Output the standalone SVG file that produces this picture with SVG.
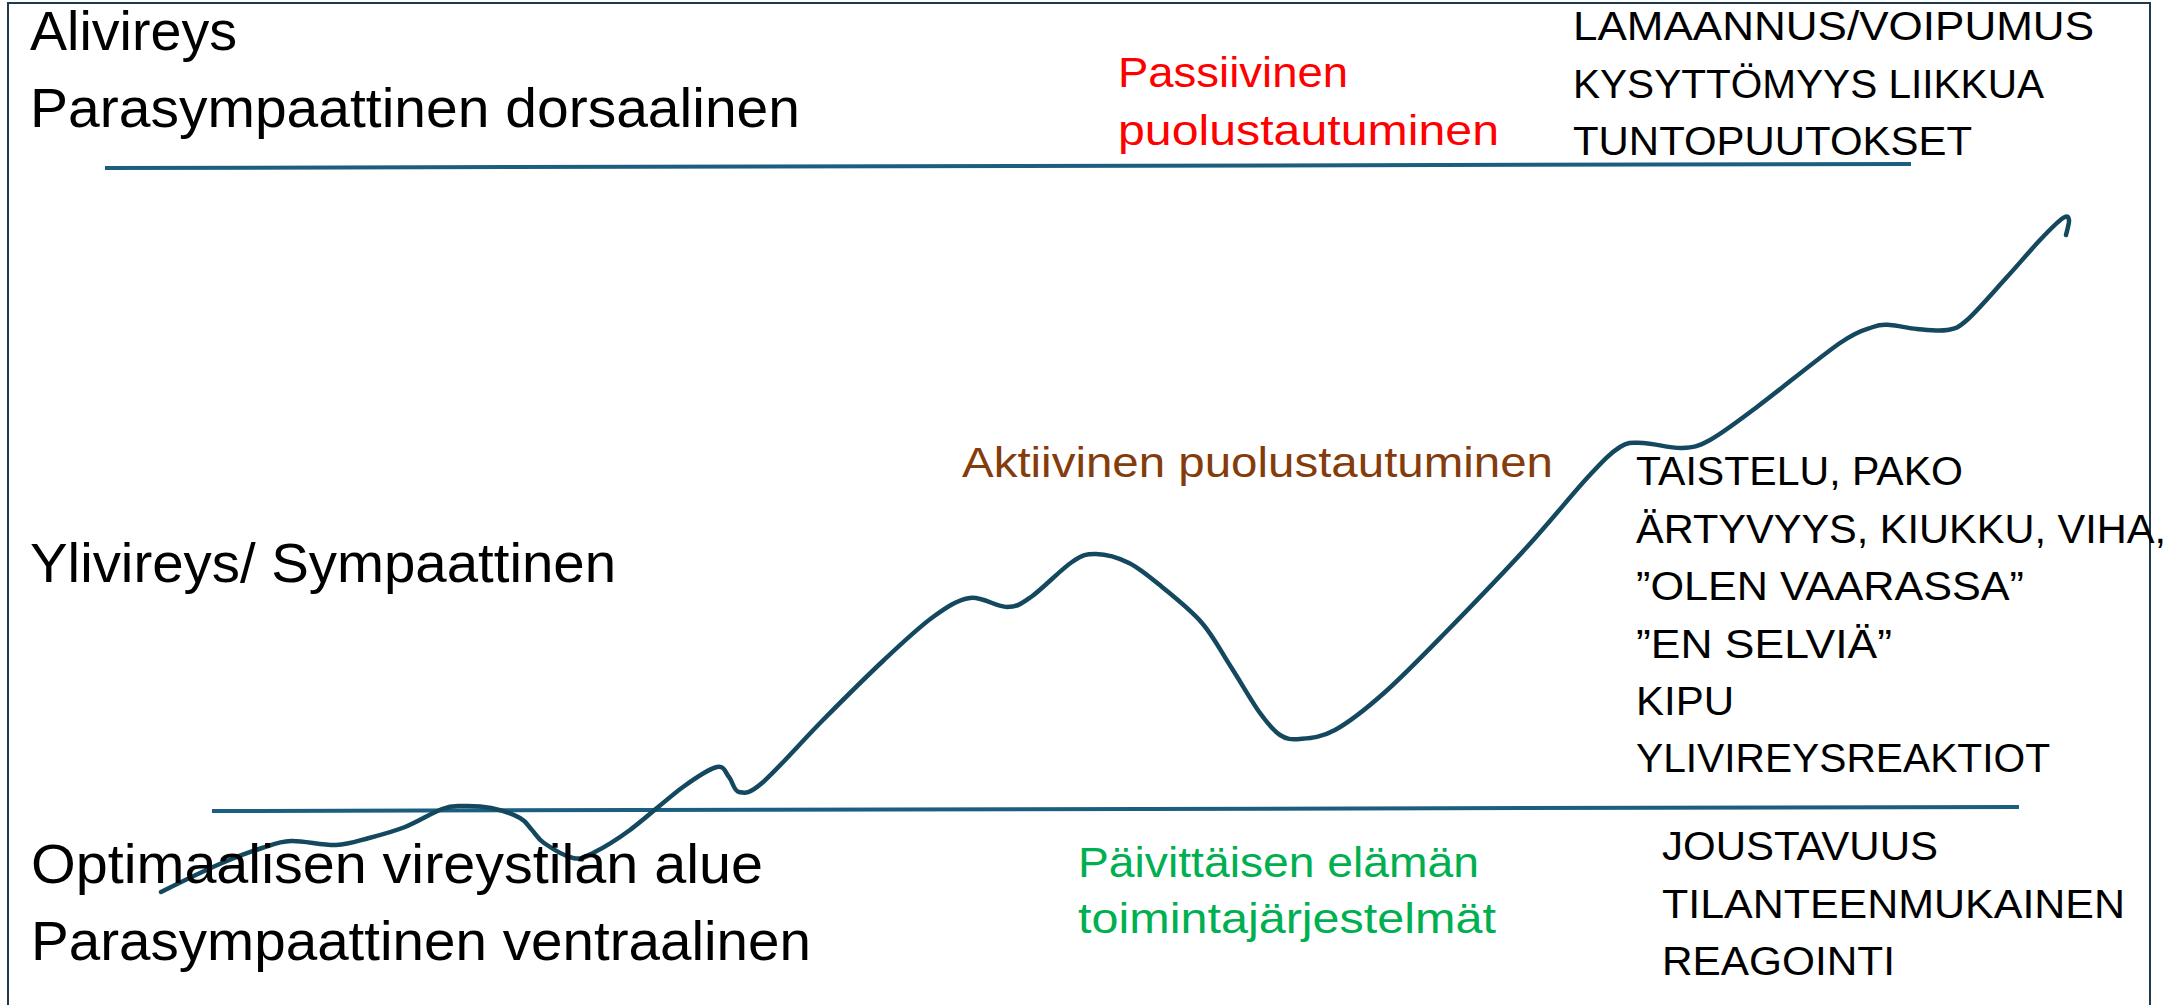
<svg xmlns="http://www.w3.org/2000/svg" width="2174" height="1005" viewBox="0 0 2174 1005">
<style>
text{font-family:"Liberation Sans",Arial,sans-serif;}
.lbl{font-size:55px;fill:#000;}
.cap{font-size:41px;fill:#000;}
.red{font-size:43px;fill:#ff0000;}
.brn{font-size:43px;fill:#843c0c;}
.grn{font-size:42px;fill:#00b050;}
.hline{stroke:#1b5e80;stroke-width:4;fill:none;}
.curve{stroke:#13485f;stroke-width:4.5;fill:none;stroke-linecap:round;stroke-linejoin:round;}
</style>
<rect width="2174" height="1005" fill="#fff"/>
<rect x="8" y="3" width="2142" height="1010" fill="none" stroke="#1f3a4d" stroke-width="2"/>
<g id="connectors">
<line class="hline" x1="105" y1="168" x2="1911" y2="164"/>
<line class="hline" x1="212" y1="811" x2="2019" y2="807"/>
<path class="curve" d="M161 892 C171 887 205.2 870.3 222 863 S250.5 851.7 262 848 S278.7 841.5 291 841 S323 845.5 336 845 S357.5 841 369 838 S392.8 831.8 405 827 S432.5 812.5 442 809 S453.8 806.2 462 806 S481.3 806 491 808 S513.2 814.3 520 818 S528 825.8 532 830 S537.2 838.3 544 843 S564.8 856.3 573 858 S583.5 857.7 593 853 S615 841 630 830 S668.5 797.5 683 787 S709.3 768.7 717 767 S725.3 772.8 729 777 S733.5 791 739 792 S748 795 762 783 S802.7 740.5 823 720 S865.7 677.2 884 660 S918.7 627.3 933 617 S957.7 599.7 970 598 S996.8 607.2 1007 607 S1020.2 604.5 1031 597 S1061.2 569.2 1072 562 S1086.5 553.8 1096 554 S1118 557.5 1129 563 S1149.8 577 1162 587 S1190.5 609.7 1202 623 S1221.3 652 1231 667 S1251.8 701.7 1260 713 S1273.3 730.7 1280 735 S1290.8 739.8 1300 739 S1321 737.7 1335 730 S1365.7 709.2 1384 693 S1421.2 657.3 1445 633 S1503.2 573 1527 547 S1572.5 493.7 1588 477 S1610.8 452.7 1620 447 S1632.7 442.8 1643 443 S1670.8 448.5 1682 448 S1697.5 446.8 1710 440 S1735.3 423.2 1757 407 S1820.7 356.3 1840 343 S1864.7 330 1873 327 S1882.7 324.7 1890 325 S1907.5 328.2 1917 329 S1938.7 331.5 1947 330 S1957 328.8 1967 320 S1994.8 290.3 2007 277 S2030.7 249.8 2040 240 S2058.2 221.3 2063 218 S2068.5 217.2 2069 220 S2066.5 232.5 2066 235"/>
</g>
<g id="alivireys">
<text class="lbl" x="30" y="50" textLength="207" lengthAdjust="spacingAndGlyphs">Alivireys</text>
<text class="lbl" x="30" y="127" textLength="770" lengthAdjust="spacingAndGlyphs">Parasympaattinen dorsaalinen</text>
</g>
<g id="passiivinen">
<text class="red" x="1118" y="87" textLength="230" lengthAdjust="spacingAndGlyphs">Passiivinen</text>
<text class="red" x="1118" y="145" textLength="381" lengthAdjust="spacingAndGlyphs">puolustautuminen</text>
</g>
<g id="lamaannus">
<text class="cap" x="1573" y="40" textLength="521" lengthAdjust="spacingAndGlyphs">LAMAANNUS/VOIPUMUS</text>
<text class="cap" x="1573" y="98" textLength="471" lengthAdjust="spacingAndGlyphs">KYSYTTÖMYYS LIIKKUA</text>
<text class="cap" x="1573" y="155" textLength="399" lengthAdjust="spacingAndGlyphs">TUNTOPUUTOKSET</text>
</g>
<g id="aktiivinen">
<text class="brn" x="962" y="477" textLength="591" lengthAdjust="spacingAndGlyphs">Aktiivinen puolustautuminen</text>
</g>
<g id="ylivireys">
<text class="lbl" x="30" y="582" textLength="586" lengthAdjust="spacingAndGlyphs">Ylivireys/ Sympaattinen</text>
</g>
<g id="taistelu">
<text class="cap" x="1636" y="485" textLength="327" lengthAdjust="spacingAndGlyphs">TAISTELU, PAKO</text>
<text class="cap" x="1636" y="543" textLength="530" lengthAdjust="spacingAndGlyphs">ÄRTYVYYS, KIUKKU, VIHA,</text>
<text class="cap" x="1636" y="600" textLength="388" lengthAdjust="spacingAndGlyphs">”OLEN VAARASSA”</text>
<text class="cap" x="1636" y="658" textLength="256" lengthAdjust="spacingAndGlyphs">”EN SELVIÄ”</text>
<text class="cap" x="1636" y="715" textLength="98" lengthAdjust="spacingAndGlyphs">KIPU</text>
<text class="cap" x="1636" y="772" textLength="414" lengthAdjust="spacingAndGlyphs">YLIVIREYSREAKTIOT</text>
</g>
<g id="optimaalinen">
<text class="lbl" x="31" y="883" textLength="732" lengthAdjust="spacingAndGlyphs">Optimaalisen vireystilan alue</text>
<text class="lbl" x="31" y="960" textLength="780" lengthAdjust="spacingAndGlyphs">Parasympaattinen ventraalinen</text>
</g>
<g id="paivittaisen">
<text class="grn" x="1078" y="877" textLength="401" lengthAdjust="spacingAndGlyphs">Päivittäisen elämän</text>
<text class="grn" x="1078" y="933" textLength="418" lengthAdjust="spacingAndGlyphs">toimintajärjestelmät</text>
</g>
<g id="joustavuus">
<text class="cap" x="1662" y="860" textLength="276" lengthAdjust="spacingAndGlyphs">JOUSTAVUUS</text>
<text class="cap" x="1662" y="918" textLength="463" lengthAdjust="spacingAndGlyphs">TILANTEENMUKAINEN</text>
<text class="cap" x="1662" y="975" textLength="233" lengthAdjust="spacingAndGlyphs">REAGOINTI</text>
</g>
</svg>
